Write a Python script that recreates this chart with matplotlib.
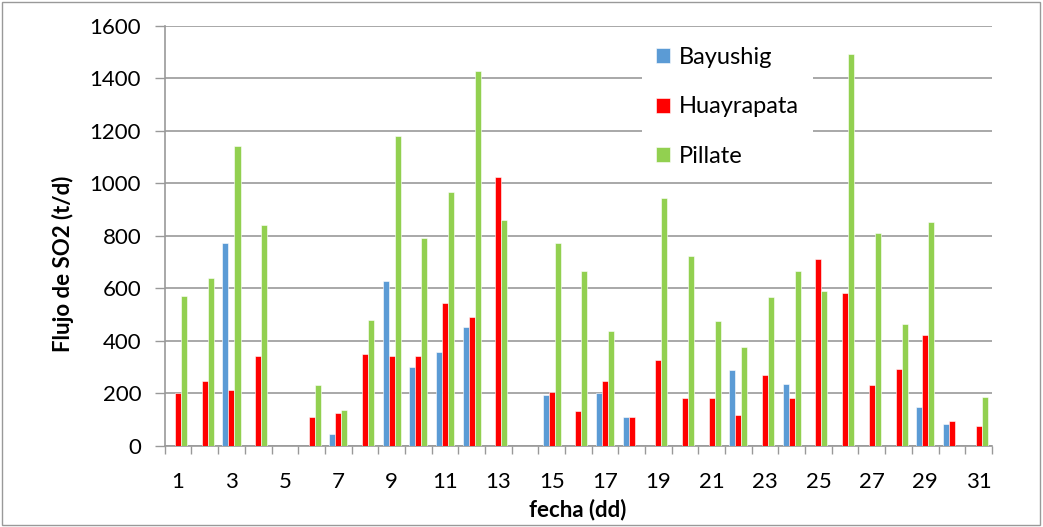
import matplotlib
matplotlib.use("Agg")
import matplotlib.pyplot as plt
import numpy as np
from matplotlib.patches import Rectangle

days = list(range(1, 32))
bayushig = [0, 0, 773, 0, 0, 0, 44, 0, 627, 300, 358, 452, 0, 0, 193, 0, 203, 109, 0, 0,
            0, 290, 0, 236, 0, 0, 0, 0, 149, 84, 0]
huayrapata = [203, 246, 212, 343, 0, 109, 124, 349, 343, 343, 543, 490, 1023, 0, 207, 133, 248, 109, 329, 183,
              183, 118, 270, 183, 711, 582, 231, 295, 422, 94, 75]
pillate = [573, 641, 1144, 841, 0, 231, 138, 480, 1180, 792, 968, 1427, 861, 0, 773, 665, 437, 0, 943, 724,
           475, 377, 568, 665, 592, 1492, 813, 466, 852, 0, 188]
series_names = ["Bayushig", "Huayrapata", "Pillate"]
colors = ["#5B9BD5", "#FF0000", "#92D050"]
xtick_labels = [str(d) for d in range(1, 32, 2)]
yticks = list(range(0, 1601, 200))

plt.rcParams['font.family'] = ['Lato', 'DejaVu Sans']

fig = plt.figure(figsize=(10.43, 5.27), dpi=100)
ax = fig.add_axes([0.158, 0.1537, 0.793, 0.797])

x = np.array(days, dtype=float)
w = 0.225
for i, (vals, c, name) in enumerate(zip([bayushig, huayrapata, pillate], colors, series_names)):
    ax.bar(x + (i - 1) * w, vals, width=w, color=c, label=name, zorder=3,
           edgecolor="white", linewidth=0.4)

ax.set_xlim(0.5, 31.5)
ax.set_ylim(0, 1600)
ax.set_yticks(yticks)
ax.set_yticklabels([str(v) for v in yticks], fontsize=16)
ax.yaxis.grid(True, color="#999999", linewidth=1.2, zorder=0)
ax.set_axisbelow(True)

ax.set_xticks(range(1, 32, 2))
ax.set_xticklabels(xtick_labels, fontsize=16)
ax.set_xticks(np.arange(0.5, 32, 1.0), minor=True)
ax.tick_params(axis='x', which='major', length=0, pad=18.5)
ax.tick_params(axis='x', which='minor', length=6, width=1, color="#999999", direction='out')
ax.tick_params(axis='y', which='major', length=7, width=1, color="#999999", pad=10)

for s in ["top", "right"]:
    ax.spines[s].set_visible(False)
for s in ["left", "bottom"]:
    ax.spines[s].set_color("#999999")
    ax.spines[s].set_linewidth(1.2)

ax.set_ylabel("Flujo de SO2 (t/d)", fontsize=16, fontweight="bold")
ax.yaxis.set_label_coords(63 / 1043, 0.5, transform=fig.transFigure)
ax.yaxis.label.set_verticalalignment("center")
ax.set_xlabel("fecha (dd)", fontsize=16, fontweight="bold")
ax.xaxis.set_label_coords(0.5, 1 - 510 / 527, transform=fig.transFigure)
ax.xaxis.label.set_verticalalignment("center")
ax.xaxis.label.set_x(578 / 1043)

# white legend background that interrupts the gridlines
ax.add_patch(Rectangle((642 / 1043, 1 - 176 / 527), (813 - 642) / 1043, (176 - 36) / 527,
                       transform=fig.transFigure, facecolor="white", edgecolor="none", zorder=1))

leg = ax.legend(loc="upper left", bbox_to_anchor=(656 / 1043, 1 - 47 / 527),
                bbox_transform=fig.transFigure, fontsize=17, frameon=False,
                handlelength=0.6, handleheight=0.6, handletextpad=0.35,
                labelspacing=1.2, borderpad=0.0, borderaxespad=0.0)

fig.patches.append(Rectangle((0.002, 0.004), 0.995, 0.992, transform=fig.transFigure,
                             fill=False, edgecolor="#999999", linewidth=1.0))

fig.savefig("out.png", dpi=100)
